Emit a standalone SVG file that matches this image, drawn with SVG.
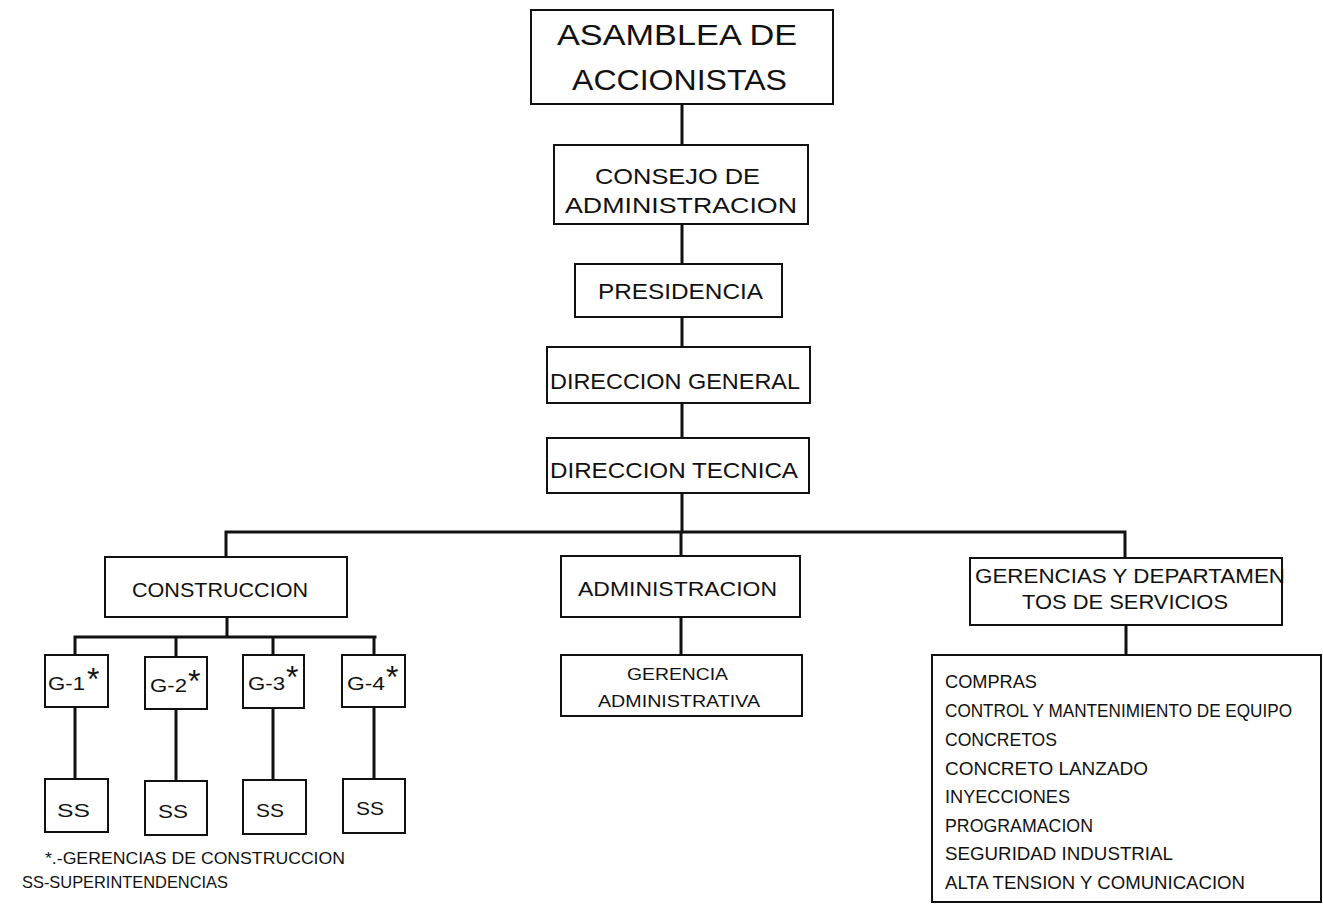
<svg xmlns="http://www.w3.org/2000/svg" width="1323" height="924" viewBox="0 0 1323 924">
<style>
.b{fill:#fff;stroke:#111;stroke-width:2}
.c{fill:none;stroke:#111;stroke-width:3;stroke-linecap:square}
text{font-family:"Liberation Sans",Arial,sans-serif;fill:#111}
.t28{font-size:29px}
.t21{font-size:22px}
.t20{font-size:21px}
.t18{font-size:19px}
.t16{font-size:17px}
.l{font-size:18px}
.ast{font-size:32px}
</style>
<rect width="1323" height="924" fill="#fff"/>
<g id="connectors">
<path class="c" d="M682 104V145M682 224V264M682 317V347M682 403V438M682 493V532M226 532H1125M226 532V557M681 532V556M1125 532V558M227 617V637M75 637H375M75 637V655M176 637V657M273 637V655M374 637V655M75 707V779M176 709V781M273 708V780M374 707V779M681 617V655M1126 625V655"/>
</g>
<g id="asamblea"><rect class="b" x="531" y="10" width="302" height="94"/>
<text class="t28" x="557" y="45" textLength="240" lengthAdjust="spacingAndGlyphs">ASAMBLEA DE</text>
<text class="t28" x="572" y="90" textLength="215" lengthAdjust="spacingAndGlyphs">ACCIONISTAS</text></g>
<g id="consejo"><rect class="b" x="554" y="145" width="254" height="79"/>
<text class="t21" x="595" y="184" textLength="165" lengthAdjust="spacingAndGlyphs">CONSEJO DE</text>
<text class="t21" x="565" y="213" textLength="232" lengthAdjust="spacingAndGlyphs">ADMINISTRACION</text></g>
<g id="presidencia"><rect class="b" x="575" y="264" width="207" height="53"/>
<text class="t21" x="598" y="299" textLength="165" lengthAdjust="spacingAndGlyphs">PRESIDENCIA</text></g>
<g id="dir-general"><rect class="b" x="547" y="347" width="263" height="56"/>
<text class="t21" x="550" y="389" textLength="250" lengthAdjust="spacingAndGlyphs">DIRECCION GENERAL</text></g>
<g id="dir-tecnica"><rect class="b" x="547" y="438" width="262" height="55"/>
<text class="t21" x="550" y="478" textLength="248" lengthAdjust="spacingAndGlyphs">DIRECCION TECNICA</text></g>
<g id="construccion"><rect class="b" x="105" y="557" width="242" height="60"/>
<text class="t20" x="132" y="597" textLength="176" lengthAdjust="spacingAndGlyphs">CONSTRUCCION</text></g>
<g id="administracion"><rect class="b" x="561" y="556" width="239" height="61"/>
<text class="t20" x="578" y="596" textLength="199" lengthAdjust="spacingAndGlyphs">ADMINISTRACION</text></g>
<g id="gerencias"><rect class="b" x="970" y="558" width="312" height="67"/>
<text class="t20" x="975" y="583" textLength="310" lengthAdjust="spacingAndGlyphs">GERENCIAS Y DEPARTAMEN</text>
<text class="t20" x="1022" y="609" textLength="206" lengthAdjust="spacingAndGlyphs">TOS DE SERVICIOS</text></g>
<g id="g1"><rect class="b" x="45" y="655" width="63" height="52"/>
<text class="t18" x="48" y="690" textLength="37" lengthAdjust="spacingAndGlyphs">G-1</text><text class="ast" x="87" y="690">*</text></g>
<g id="g2"><rect class="b" x="145" y="657" width="62" height="52"/>
<text class="t18" x="150" y="692" textLength="37" lengthAdjust="spacingAndGlyphs">G-2</text><text class="ast" x="188" y="692">*</text></g>
<g id="g3"><rect class="b" x="243" y="655" width="61" height="53"/>
<text class="t18" x="248" y="690" textLength="37" lengthAdjust="spacingAndGlyphs">G-3</text><text class="ast" x="286" y="688">*</text></g>
<g id="g4"><rect class="b" x="342" y="655" width="63" height="52"/>
<text class="t18" x="347" y="690" textLength="38" lengthAdjust="spacingAndGlyphs">G-4</text><text class="ast" x="386" y="688">*</text></g>
<g id="ss1"><rect class="b" x="45" y="779" width="63" height="53"/>
<text class="t18" x="57" y="817" textLength="33" lengthAdjust="spacingAndGlyphs">SS</text></g>
<g id="ss2"><rect class="b" x="145" y="781" width="62" height="54"/>
<text class="t18" x="158" y="818" textLength="30" lengthAdjust="spacingAndGlyphs">SS</text></g>
<g id="ss3"><rect class="b" x="243" y="780" width="63" height="54"/>
<text class="t18" x="256" y="817" textLength="28" lengthAdjust="spacingAndGlyphs">SS</text></g>
<g id="ss4"><rect class="b" x="343" y="779" width="62" height="54"/>
<text class="t18" x="356" y="815" textLength="28" lengthAdjust="spacingAndGlyphs">SS</text></g>
<g id="gerencia-adm"><rect class="b" x="561" y="655" width="241" height="61"/>
<text class="t16" x="627" y="680" textLength="101" lengthAdjust="spacingAndGlyphs">GERENCIA</text>
<text class="t16" x="598" y="707" textLength="162" lengthAdjust="spacingAndGlyphs">ADMINISTRATIVA</text></g>
<g id="servicios"><rect class="b" x="932" y="655" width="389" height="247"/>
<text class="l" x="945" y="688" textLength="92" lengthAdjust="spacingAndGlyphs">COMPRAS</text>
<text class="l" x="945" y="717" textLength="347" lengthAdjust="spacingAndGlyphs">CONTROL Y MANTENIMIENTO DE EQUIPO</text>
<text class="l" x="945" y="746" textLength="112" lengthAdjust="spacingAndGlyphs">CONCRETOS</text>
<text class="l" x="945" y="775" textLength="203" lengthAdjust="spacingAndGlyphs">CONCRETO LANZADO</text>
<text class="l" x="945" y="803" textLength="125" lengthAdjust="spacingAndGlyphs">INYECCIONES</text>
<text class="l" x="945" y="832" textLength="148" lengthAdjust="spacingAndGlyphs">PROGRAMACION</text>
<text class="l" x="945" y="860" textLength="228" lengthAdjust="spacingAndGlyphs">SEGURIDAD INDUSTRIAL</text>
<text class="l" x="945" y="889" textLength="300" lengthAdjust="spacingAndGlyphs">ALTA TENSION Y COMUNICACION</text></g>
<g id="legend">
<text class="t16" x="45" y="864" textLength="300" lengthAdjust="spacingAndGlyphs">*.-GERENCIAS DE CONSTRUCCION</text>
<text class="t16" x="22" y="888" textLength="206" lengthAdjust="spacingAndGlyphs">SS-SUPERINTENDENCIAS</text>
</g>
</svg>
